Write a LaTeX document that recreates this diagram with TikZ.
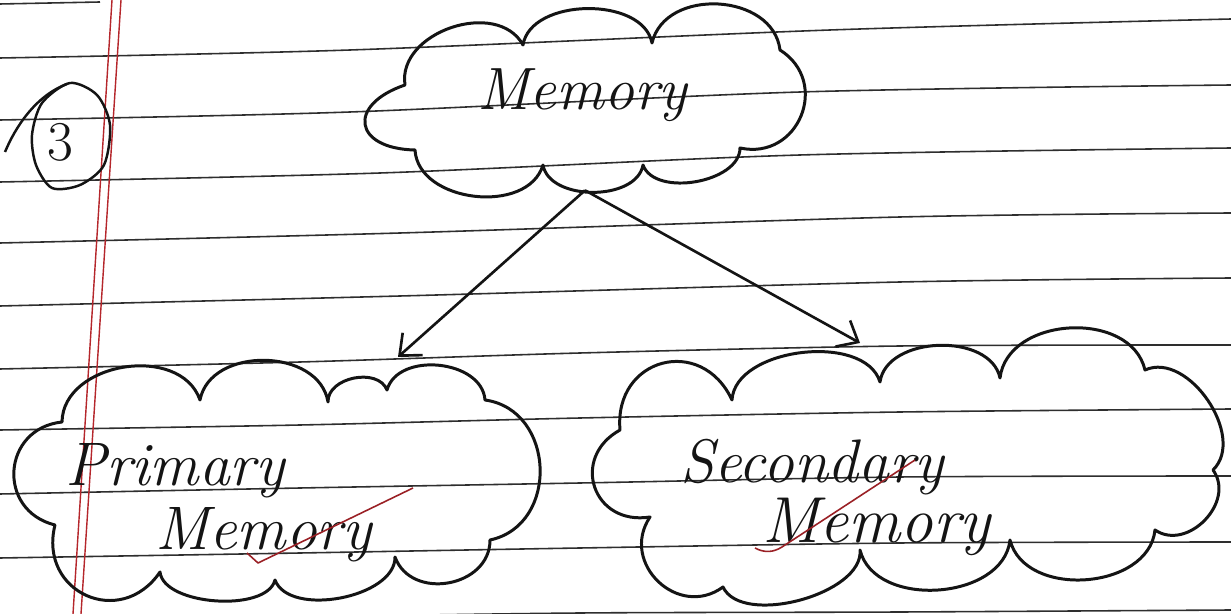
\documentclass[tikz,border=0pt]{standalone}
\usetikzlibrary{arrows.meta}
\definecolor{ink}{HTML}{141414}
\definecolor{ruleink}{HTML}{2E2E2E}
\definecolor{margin}{HTML}{B5262B}
\begin{document}
\begin{tikzpicture}[x=0.02cm,y=-0.02cm,
  ruleline/.style={draw=ruleink,line width=0.9pt},
  marginline/.style={draw=margin,line width=0.8pt},
  outline/.style={draw=ink,line width=1.7pt,line join=round},
  pf/.style={bend left=80,looseness=#1},
  hand/.style={text=ink,font=\itshape\fontsize{#1}{#1}\selectfont,inner sep=0pt,anchor=base west},
  area/.style={inner sep=0pt,draw=none},
  link/.style={draw=ink,line width=1.5pt,-{Straight Barb[length=10pt,width=17pt,line width=1.5pt]}},
  redmark/.style={draw=margin!85!black,line width=0.9pt,line join=round}]
\useasboundingbox (0,0) rectangle (1231,614);
\fill[white] (0,0) rectangle (1231,614);
% ruled paper
\draw[ruleline] (0,4) -- (100,2);
\draw[ruleline] plot[smooth] coordinates {(0,58) (350,50) (830,30) (1231,19)};
\draw[ruleline] plot[smooth] coordinates {(0,120) (350,112) (800,92) (1231,85)};
\draw[ruleline] plot[smooth] coordinates {(0,182) (380,173) (800,155) (1231,148)};
\draw[ruleline] plot[smooth] coordinates {(0,243) (400,233) (900,217) (1231,213)};
\draw[ruleline] plot[smooth] coordinates {(0,306) (400,296) (900,282) (1231,278)};
\draw[ruleline] plot[smooth] coordinates {(0,369) (300,362) (580,353) (900,346) (1231,345)};
\draw[ruleline] plot[smooth] coordinates {(0,430) (300,425) (580,418) (900,412) (1231,409)};
\draw[ruleline] plot[smooth] coordinates {(0,494) (300,488) (580,483) (900,477) (1231,476)};
\draw[ruleline] plot[smooth] coordinates {(0,558) (300,553) (580,548) (900,543) (1231,542)};
\draw[ruleline] plot[smooth] coordinates {(300,617) (580,613) (900,612) (1231,610)};
% margin
\draw[marginline] (112,0) -- (73,614);
\draw[marginline] (121,0) -- (81,614);
% question number
\draw[outline,line width=1.4pt] plot[smooth cycle] coordinates {(70,83) (97,95) (110,125) (104,165) (80,185) (52,188) (36,165) (32,135) (42,103)};
\draw[outline,line width=1.4pt] (5,152) .. controls (15,128) and (35,96) .. (67,84);
\node[text=ink,font=\fontsize{32}{32}\selectfont,inner sep=0pt] (qnum) at (60,142) {3};
% cloud areas (named)
\node[area,minimum width=8.92cm,minimum height=3.4cm] (mem) at (585,105) {};
\node[area,minimum width=10.4cm,minimum height=4.75cm] (pri) at (285,481) {};
\node[area,minimum width=12.6cm,minimum height=5.45cm] (sec) at (910,468) {};
% cloud outlines
\draw[outline] (405,85) to[pf=1.1] (523,45) to[pf=0.95] (652,43) to[pf=1.15] (780,50)
  to[pf=1.45] (740,148) to[pf=0.9] (643,165) to[pf=0.95] (543,165) to[pf=1.05] (415,150)
  to[pf=2.4] cycle;
\draw[outline] (62,422) to[pf=1.1] (200,400) to[pf=1.1] (328,402) to[pf=1.05] (387,390)
  to[pf=1.05] (485,400) to[pf=1.3] (490,540) to[pf=1.25] (395,557) to[pf=0.85] (275,580)
  to[pf=0.75] (160,572) to[pf=1.55] (55,525) to[pf=1.5] cycle;
\draw[outline] (620,430) to[pf=1.6] (732,400) to[pf=0.9] (880,382) to[pf=1.0] (1000,378)
  to[pf=1.1] (1145,370) to[pf=1.0] (1213,470) to[pf=1.2] (1155,530) to[pf=1.07] (1010,540)
  to[pf=1.04] (860,550) to[pf=0.8] (723,587) to[pf=1.4] (650,517) to[pf=1.6] cycle;
% labels
\node[hand=34] (memtxt) at (477,110) {Memory};
\node[hand=35] (pritxt1) at (65,486) {Primary};
\node[hand=35] (pritxt2) at (155,550) {Memory};
\node[hand=35] (sectxt1) at (680,483) {Secondary};
\node[hand=37] (sectxt2) at (762,543) {Memory};
% red pen marks
\coordinate (rpA) at (413,488); \coordinate (rpB) at (258,563); \coordinate (rpC) at (247,553);
\draw[redmark] (rpA) -- (rpB) -- (rpC);
\coordinate (rsA) at (915,460); \coordinate (rsB) at (782,547); \coordinate (rsC) at (755,548);
\draw[redmark] (rsA) -- (rsB) to[bend left=30] (rsC);
% connectors
\coordinate (priIn) at (398,357);
\coordinate (secIn) at (860,343);
\draw[link] (mem.south) -- (priIn);
\draw[link] (mem.south) -- (secIn);
\end{tikzpicture}
\end{document}
